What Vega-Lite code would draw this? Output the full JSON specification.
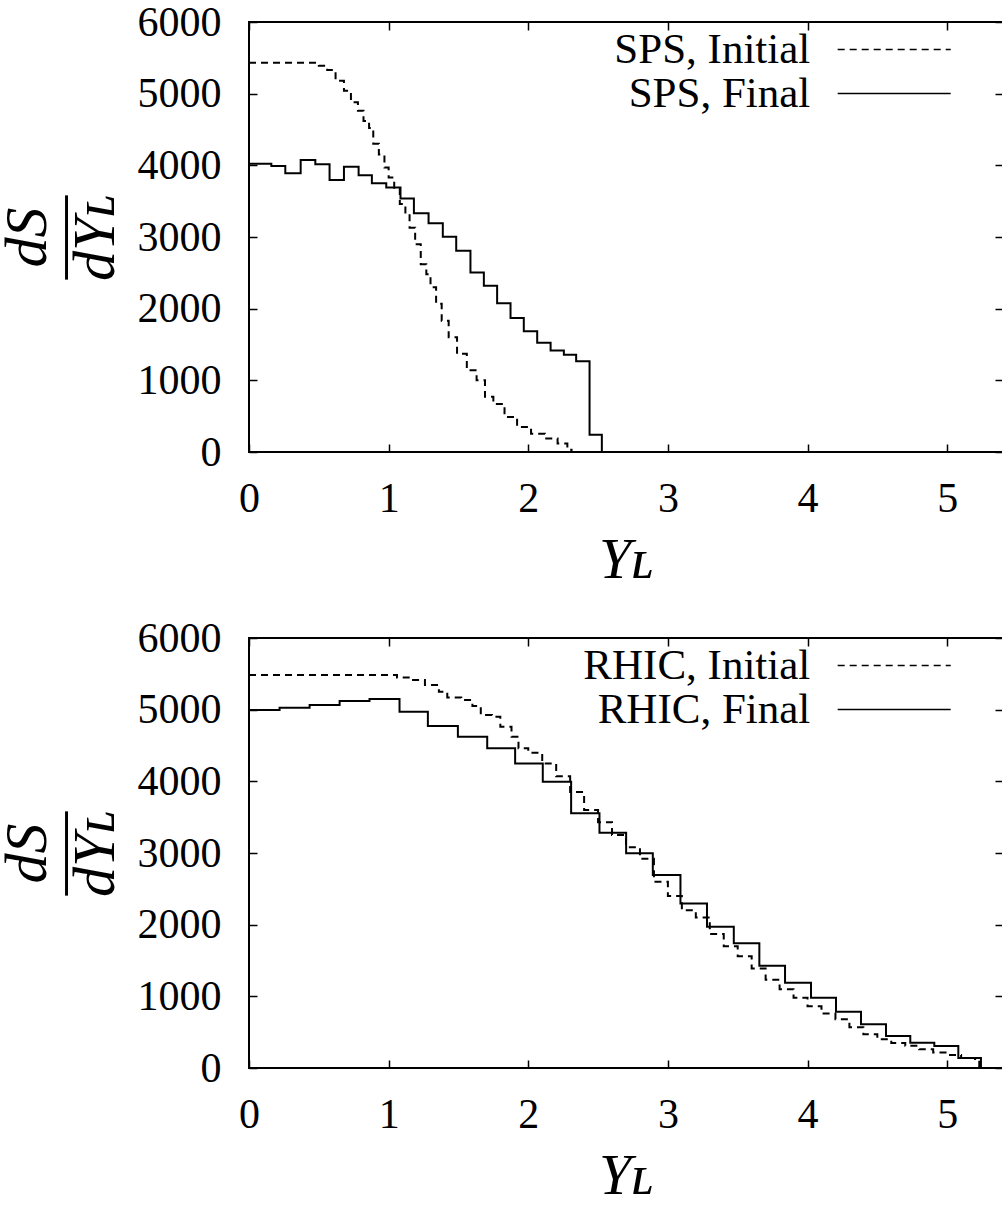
{
  "$schema": "https://vega.github.io/schema/vega-lite/v6.json",
  "padding": {"left": -4, "top": 0, "right": 0, "bottom": 0},
  "background": "white",
  "spacing": 186,
  "bounds": "flush",
  "resolve": {"scale": {"strokeDash": "independent"}, "legend": {"strokeDash": "independent"}},
  "config": {
    "font": "Liberation Serif",
    "view": {"stroke": "black", "strokeWidth": 2},
    "axis": {
      "domain": false, "grid": false, "labelFlush": false,
      "tickColor": "black", "tickWidth": 1.5, "tickSize": -8,
      "labelColor": "black", "labelFont": "Liberation Serif", "labelFontSize": 42,
      "titleFont": "Liberation Serif", "titleColor": "black"
    },
    "legend": {
      "orient": "none", "legendX": 623.7, "legendY": 6, "title": null,
      "symbolType": "M-5,0H5", "symbolSize": 511, "symbolStrokeWidth": 1.5, "symbolStrokeColor": "black", "symbolFillColor": "transparent",
      "labelAlign": "right", "labelOffset": -105.4, "labelFontSize": 43, "labelFont": "Liberation Serif", "labelColor": "black",
      "rowPadding": -1, "padding": 0, "labelLimit": 0
    }
  },
  "datasets": {
    "sps": [
      {"s": "SPS, Initial", "x": 0, "y": 5430}, {"s": "SPS, Initial", "x": 0.5, "y": 5390}, {"s": "SPS, Initial", "x": 0.56, "y": 5330},
      {"s": "SPS, Initial", "x": 0.62, "y": 5180}, {"s": "SPS, Initial", "x": 0.68, "y": 5040}, {"s": "SPS, Initial", "x": 0.73, "y": 4880},
      {"s": "SPS, Initial", "x": 0.78, "y": 4760}, {"s": "SPS, Initial", "x": 0.82, "y": 4620}, {"s": "SPS, Initial", "x": 0.86, "y": 4520},
      {"s": "SPS, Initial", "x": 0.89, "y": 4300}, {"s": "SPS, Initial", "x": 0.93, "y": 4150}, {"s": "SPS, Initial", "x": 0.97, "y": 3970},
      {"s": "SPS, Initial", "x": 1.0, "y": 3830}, {"s": "SPS, Initial", "x": 1.04, "y": 3670}, {"s": "SPS, Initial", "x": 1.08, "y": 3460},
      {"s": "SPS, Initial", "x": 1.12, "y": 3320}, {"s": "SPS, Initial", "x": 1.15, "y": 3130}, {"s": "SPS, Initial", "x": 1.19, "y": 2900},
      {"s": "SPS, Initial", "x": 1.23, "y": 2620}, {"s": "SPS, Initial", "x": 1.27, "y": 2480}, {"s": "SPS, Initial", "x": 1.3, "y": 2300},
      {"s": "SPS, Initial", "x": 1.34, "y": 2070}, {"s": "SPS, Initial", "x": 1.38, "y": 1830}, {"s": "SPS, Initial", "x": 1.43, "y": 1600},
      {"s": "SPS, Initial", "x": 1.49, "y": 1370}, {"s": "SPS, Initial", "x": 1.56, "y": 1140}, {"s": "SPS, Initial", "x": 1.63, "y": 1000},
      {"s": "SPS, Initial", "x": 1.69, "y": 770}, {"s": "SPS, Initial", "x": 1.75, "y": 670}, {"s": "SPS, Initial", "x": 1.83, "y": 490},
      {"s": "SPS, Initial", "x": 1.92, "y": 350}, {"s": "SPS, Initial", "x": 2.02, "y": 256}, {"s": "SPS, Initial", "x": 2.12, "y": 187},
      {"s": "SPS, Initial", "x": 2.21, "y": 117}, {"s": "SPS, Initial", "x": 2.28, "y": 33}, {"s": "SPS, Initial", "x": 2.31, "y": 0},
      {"s": "SPS, Final", "x": 0, "y": 4023}, {"s": "SPS, Final", "x": 0.16, "y": 3991}, {"s": "SPS, Final", "x": 0.26, "y": 3889},
      {"s": "SPS, Final", "x": 0.37, "y": 4074}, {"s": "SPS, Final", "x": 0.475, "y": 4014}, {"s": "SPS, Final", "x": 0.577, "y": 3796},
      {"s": "SPS, Final", "x": 0.68, "y": 3981}, {"s": "SPS, Final", "x": 0.785, "y": 3861}, {"s": "SPS, Final", "x": 0.88, "y": 3750},
      {"s": "SPS, Final", "x": 0.983, "y": 3689}, {"s": "SPS, Final", "x": 1.085, "y": 3536}, {"s": "SPS, Final", "x": 1.181, "y": 3332},
      {"s": "SPS, Final", "x": 1.286, "y": 3193}, {"s": "SPS, Final", "x": 1.388, "y": 3003}, {"s": "SPS, Final", "x": 1.484, "y": 2808},
      {"s": "SPS, Final", "x": 1.586, "y": 2506}, {"s": "SPS, Final", "x": 1.682, "y": 2320}, {"s": "SPS, Final", "x": 1.777, "y": 2074},
      {"s": "SPS, Final", "x": 1.873, "y": 1871}, {"s": "SPS, Final", "x": 1.968, "y": 1684}, {"s": "SPS, Final", "x": 2.064, "y": 1523},
      {"s": "SPS, Final", "x": 2.16, "y": 1416}, {"s": "SPS, Final", "x": 2.255, "y": 1356}, {"s": "SPS, Final", "x": 2.343, "y": 1267},
      {"s": "SPS, Final", "x": 2.439, "y": 242}, {"s": "SPS, Final", "x": 2.527, "y": 0}
    ],
    "rhic": [
      {"s": "RHIC, Initial", "x": 0, "y": 5482}, {"s": "RHIC, Initial", "x": 1.06, "y": 5450}, {"s": "RHIC, Initial", "x": 1.16, "y": 5413},
      {"s": "RHIC, Initial", "x": 1.26, "y": 5343}, {"s": "RHIC, Initial", "x": 1.36, "y": 5250}, {"s": "RHIC, Initial", "x": 1.42, "y": 5171},
      {"s": "RHIC, Initial", "x": 1.52, "y": 5134}, {"s": "RHIC, Initial", "x": 1.6, "y": 5051}, {"s": "RHIC, Initial", "x": 1.66, "y": 4925},
      {"s": "RHIC, Initial", "x": 1.74, "y": 4902}, {"s": "RHIC, Initial", "x": 1.8, "y": 4762}, {"s": "RHIC, Initial", "x": 1.88, "y": 4623},
      {"s": "RHIC, Initial", "x": 1.93, "y": 4460}, {"s": "RHIC, Initial", "x": 2.0, "y": 4400}, {"s": "RHIC, Initial", "x": 2.1, "y": 4250},
      {"s": "RHIC, Initial", "x": 2.2, "y": 4070}, {"s": "RHIC, Initial", "x": 2.3, "y": 3850}, {"s": "RHIC, Initial", "x": 2.4, "y": 3600},
      {"s": "RHIC, Initial", "x": 2.5, "y": 3430}, {"s": "RHIC, Initial", "x": 2.6, "y": 3250}, {"s": "RHIC, Initial", "x": 2.7, "y": 3080},
      {"s": "RHIC, Initial", "x": 2.8, "y": 2920}, {"s": "RHIC, Initial", "x": 2.9, "y": 2600}, {"s": "RHIC, Initial", "x": 3.0, "y": 2400},
      {"s": "RHIC, Initial", "x": 3.1, "y": 2200}, {"s": "RHIC, Initial", "x": 3.2, "y": 2100}, {"s": "RHIC, Initial", "x": 3.3, "y": 1870},
      {"s": "RHIC, Initial", "x": 3.4, "y": 1700}, {"s": "RHIC, Initial", "x": 3.5, "y": 1560}, {"s": "RHIC, Initial", "x": 3.6, "y": 1390},
      {"s": "RHIC, Initial", "x": 3.7, "y": 1230}, {"s": "RHIC, Initial", "x": 3.8, "y": 1100}, {"s": "RHIC, Initial", "x": 3.9, "y": 980},
      {"s": "RHIC, Initial", "x": 4.0, "y": 860}, {"s": "RHIC, Initial", "x": 4.1, "y": 760}, {"s": "RHIC, Initial", "x": 4.2, "y": 680},
      {"s": "RHIC, Initial", "x": 4.3, "y": 570}, {"s": "RHIC, Initial", "x": 4.4, "y": 470}, {"s": "RHIC, Initial", "x": 4.5, "y": 400},
      {"s": "RHIC, Initial", "x": 4.6, "y": 350}, {"s": "RHIC, Initial", "x": 4.7, "y": 310}, {"s": "RHIC, Initial", "x": 4.8, "y": 260},
      {"s": "RHIC, Initial", "x": 4.9, "y": 215}, {"s": "RHIC, Initial", "x": 5.0, "y": 180}, {"s": "RHIC, Initial", "x": 5.1, "y": 140},
      {"s": "RHIC, Initial", "x": 5.2, "y": 100}, {"s": "RHIC, Initial", "x": 5.23, "y": 0},
      {"s": "RHIC, Final", "x": 0, "y": 4994}, {"s": "RHIC, Final", "x": 0.219, "y": 5027}, {"s": "RHIC, Final", "x": 0.434, "y": 5064},
      {"s": "RHIC, Final", "x": 0.649, "y": 5120}, {"s": "RHIC, Final", "x": 0.863, "y": 5148}, {"s": "RHIC, Final", "x": 1.078, "y": 4971},
      {"s": "RHIC, Final", "x": 1.281, "y": 4771}, {"s": "RHIC, Final", "x": 1.496, "y": 4622}, {"s": "RHIC, Final", "x": 1.706, "y": 4460},
      {"s": "RHIC, Final", "x": 1.906, "y": 4250}, {"s": "RHIC, Final", "x": 2.104, "y": 3994}, {"s": "RHIC, Final", "x": 2.307, "y": 3553},
      {"s": "RHIC, Final", "x": 2.51, "y": 3283}, {"s": "RHIC, Final", "x": 2.701, "y": 2995}, {"s": "RHIC, Final", "x": 2.892, "y": 2692},
      {"s": "RHIC, Final", "x": 3.09, "y": 2297}, {"s": "RHIC, Final", "x": 3.28, "y": 1971}, {"s": "RHIC, Final", "x": 3.472, "y": 1740},
      {"s": "RHIC, Final", "x": 3.655, "y": 1427}, {"s": "RHIC, Final", "x": 3.839, "y": 1190}, {"s": "RHIC, Final", "x": 4.025, "y": 981},
      {"s": "RHIC, Final", "x": 4.204, "y": 786}, {"s": "RHIC, Final", "x": 4.383, "y": 609}, {"s": "RHIC, Final", "x": 4.562, "y": 446},
      {"s": "RHIC, Final", "x": 4.736, "y": 353}, {"s": "RHIC, Final", "x": 4.908, "y": 307}, {"s": "RHIC, Final", "x": 5.08, "y": 140},
      {"s": "RHIC, Final", "x": 5.242, "y": 0}
    ]
  },
  "vconcat": [
    {
      "width": 754, "height": 430,
      "data": {"name": "sps"},
      "layer": [
        {
          "mark": {"type": "line", "interpolate": "step-after", "color": "black", "strokeWidth": 2},
          "encoding": {
            "x": {"field": "x", "type": "quantitative", "scale": {"domain": [0, 5.4], "nice": false},
              "axis": {"orient": "bottom", "values": [0, 1, 2, 3, 4, 5], "labelPadding": 34, "title": "Yʟ",
                "titleFontSize": 58, "titleFontStyle": "italic", "titleFontWeight": "normal", "titleY": 125, "titleBaseline": "alphabetic"}},
            "y": {"field": "y", "type": "quantitative", "scale": {"domain": [0, 6000], "nice": false},
              "axis": {"orient": "left", "values": [0, 1000, 2000, 3000, 4000, 5000, 6000], "format": "d", "labelPadding": 36,
                "title": ["dS", "—–", "dYʟ"], "titleFontSize": 60, "titleFontStyle": "italic", "titleFontWeight": "normal",
                "titleLineHeight": 34, "titleAngle": -90, "titleX": -221.4, "titleY": 215, "titleAlign": "center", "titleBaseline": "middle"}},
            "strokeDash": {"field": "s", "type": "nominal",
              "scale": {"domain": ["SPS, Initial", "SPS, Final"], "range": [[7, 5], [1, 0]]}}
          }
        },
        {
          "mark": {"type": "line", "opacity": 0},
          "encoding": {
            "x": {"field": "x", "type": "quantitative", "scale": {"domain": [0, 5.4], "nice": false},
              "axis": {"orient": "top", "values": [0, 1, 2, 3, 4, 5], "labels": false, "title": null}},
            "y": {"field": "y", "type": "quantitative", "scale": {"domain": [0, 6000], "nice": false},
              "axis": {"orient": "right", "values": [0, 1000, 2000, 3000, 4000, 5000, 6000], "labels": false, "title": null}}
          }
        }
      ]
    },
    {
      "width": 754, "height": 430,
      "data": {"name": "rhic"},
      "layer": [
        {
          "mark": {"type": "line", "interpolate": "step-after", "color": "black", "strokeWidth": 2},
          "encoding": {
            "x": {"field": "x", "type": "quantitative", "scale": {"domain": [0, 5.4], "nice": false},
              "axis": {"orient": "bottom", "values": [0, 1, 2, 3, 4, 5], "labelPadding": 34, "title": "Yʟ",
                "titleFontSize": 58, "titleFontStyle": "italic", "titleFontWeight": "normal", "titleY": 125, "titleBaseline": "alphabetic"}},
            "y": {"field": "y", "type": "quantitative", "scale": {"domain": [0, 6000], "nice": false},
              "axis": {"orient": "left", "values": [0, 1000, 2000, 3000, 4000, 5000, 6000], "format": "d", "labelPadding": 36,
                "title": ["dS", "—–", "dYʟ"], "titleFontSize": 60, "titleFontStyle": "italic", "titleFontWeight": "normal",
                "titleLineHeight": 34, "titleAngle": -90, "titleX": -221.4, "titleY": 215, "titleAlign": "center", "titleBaseline": "middle"}},
            "strokeDash": {"field": "s", "type": "nominal",
              "scale": {"domain": ["RHIC, Initial", "RHIC, Final"], "range": [[7, 5], [1, 0]]}}
          }
        },
        {
          "mark": {"type": "line", "opacity": 0},
          "encoding": {
            "x": {"field": "x", "type": "quantitative", "scale": {"domain": [0, 5.4], "nice": false},
              "axis": {"orient": "top", "values": [0, 1, 2, 3, 4, 5], "labels": false, "title": null}},
            "y": {"field": "y", "type": "quantitative", "scale": {"domain": [0, 6000], "nice": false},
              "axis": {"orient": "right", "values": [0, 1000, 2000, 3000, 4000, 5000, 6000], "labels": false, "title": null}}
          }
        }
      ]
    }
  ]
}
